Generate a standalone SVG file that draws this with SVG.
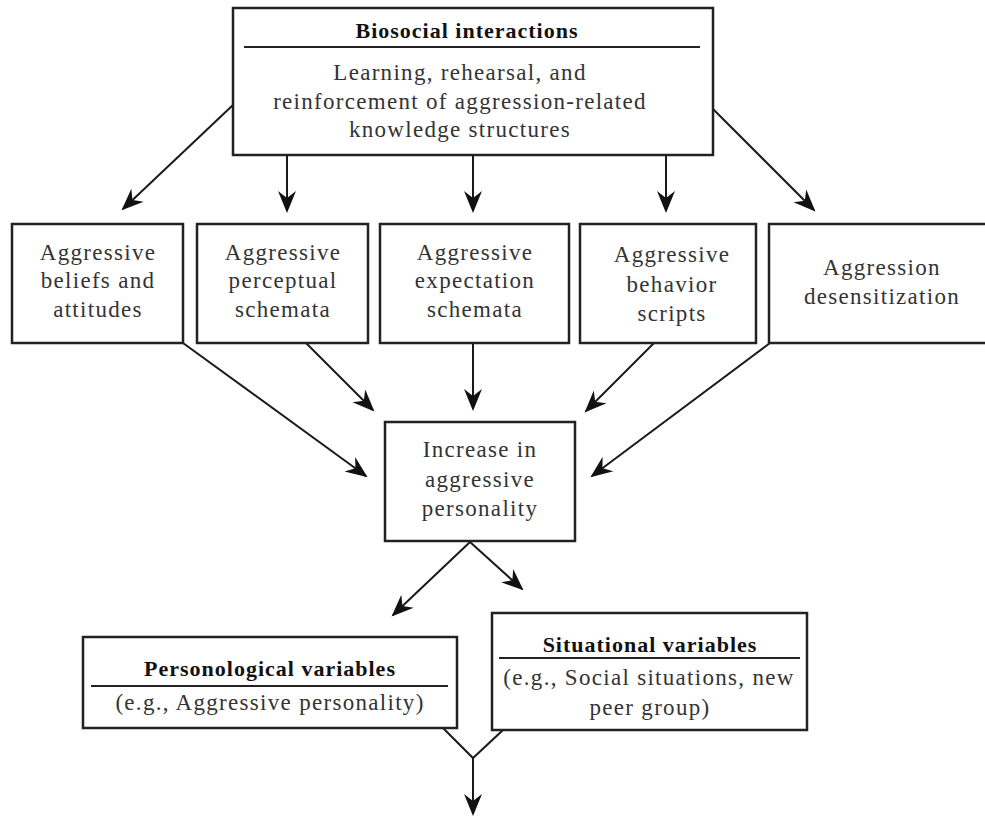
<svg xmlns="http://www.w3.org/2000/svg" width="985" height="816" viewBox="0 0 985 816">
  <defs>
    <!-- barbed arrowhead shared by all connectors -->
    <marker id="arrow" markerUnits="userSpaceOnUse" viewBox="-24 -10 26 20" refX="-2" refY="0" markerWidth="26" markerHeight="20" orient="auto">
      <path d="M0,0 L-22,-9 L-15,0 L-22,9 Z" fill="#111"/>
    </marker>
  </defs>
  <style>
    .box { fill: #fff; stroke: #222; stroke-width: 2.5; }
    .rule { stroke: #222; stroke-width: 2; }
    .txt { font-family: "Liberation Serif", "Times New Roman", serif; font-size: 23px; letter-spacing: 1.3px; fill: #333; text-anchor: middle; }
    .ttl { font-family: "Liberation Serif", "Times New Roman", serif; font-size: 22px; font-weight: bold; letter-spacing: 1px; fill: #111; text-anchor: middle; }
    .conn line, .conn polyline { stroke: #1a1a1a; stroke-width: 2; fill: none; }
  </style>
  <rect width="985" height="816" fill="#fff"/>

  <!-- connectors -->
  <g class="conn">
    <line x1="233" y1="105" x2="123" y2="209" marker-end="url(#arrow)"/>
    <line x1="287" y1="155" x2="287" y2="211" marker-end="url(#arrow)"/>
    <line x1="473" y1="155" x2="473" y2="211" marker-end="url(#arrow)"/>
    <line x1="666" y1="155" x2="666" y2="211" marker-end="url(#arrow)"/>
    <line x1="713" y1="109" x2="814" y2="210" marker-end="url(#arrow)"/>

    <line x1="183" y1="343" x2="366" y2="476" marker-end="url(#arrow)"/>
    <line x1="306" y1="343" x2="373" y2="410" marker-end="url(#arrow)"/>
    <line x1="473" y1="343" x2="473" y2="409" marker-end="url(#arrow)"/>
    <line x1="654" y1="343" x2="586" y2="411" marker-end="url(#arrow)"/>
    <line x1="770" y1="343" x2="592" y2="476" marker-end="url(#arrow)"/>

    <line x1="470" y1="542" x2="393" y2="615" marker-end="url(#arrow)"/>
    <line x1="470" y1="542" x2="522" y2="589" marker-end="url(#arrow)"/>

    <polyline points="443,728 473,758 503,730"/>
    <line x1="473" y1="758" x2="473" y2="814" marker-end="url(#arrow)"/>
  </g>

  <!-- top node -->
  <g id="biosocial">
    <rect class="box" x="233" y="8" width="480" height="147"/>
    <text class="ttl" x="467" y="38">Biosocial interactions</text>
    <line class="rule" x1="244" y1="47" x2="700" y2="47"/>
    <text class="txt" x="460" y="80">Learning, rehearsal, and</text>
    <text class="txt" x="460" y="109">reinforcement of aggression-related</text>
    <text class="txt" x="460" y="137">knowledge structures</text>
  </g>

  <!-- knowledge structure nodes -->
  <g id="beliefs">
    <rect class="box" x="12" y="224" width="171" height="119"/>
    <text class="txt" x="98" y="260">Aggressive</text>
    <text class="txt" x="98" y="288">beliefs and</text>
    <text class="txt" x="98" y="317">attitudes</text>
  </g>
  <g id="perceptual">
    <rect class="box" x="197" y="224" width="171" height="119"/>
    <text class="txt" x="283" y="260">Aggressive</text>
    <text class="txt" x="283" y="288">perceptual</text>
    <text class="txt" x="283" y="317">schemata</text>
  </g>
  <g id="expectation">
    <rect class="box" x="380" y="224" width="189" height="119"/>
    <text class="txt" x="475" y="260">Aggressive</text>
    <text class="txt" x="475" y="288">expectation</text>
    <text class="txt" x="475" y="317">schemata</text>
  </g>
  <g id="scripts">
    <rect class="box" x="580" y="224" width="176" height="119"/>
    <text class="txt" x="672" y="262">Aggressive</text>
    <text class="txt" x="672" y="292">behavior</text>
    <text class="txt" x="672" y="321">scripts</text>
  </g>
  <g id="desensitization">
    <rect class="box" x="769" y="224" width="230" height="119"/>
    <text class="txt" x="882" y="275">Aggression</text>
    <text class="txt" x="882" y="304">desensitization</text>
  </g>

  <!-- outcome node -->
  <g id="increase">
    <rect class="box" x="385" y="422" width="190" height="119"/>
    <text class="txt" x="480" y="457">Increase in</text>
    <text class="txt" x="480" y="487">aggressive</text>
    <text class="txt" x="480" y="516">personality</text>
  </g>

  <!-- variable nodes -->
  <g id="personological">
    <rect class="box" x="83" y="637" width="374" height="91"/>
    <text class="ttl" x="270" y="676">Personological variables</text>
    <line class="rule" x1="91" y1="686" x2="448" y2="686"/>
    <text class="txt" x="270" y="710">(e.g., Aggressive personality)</text>
  </g>
  <g id="situational">
    <rect class="box" x="492" y="613" width="315" height="117"/>
    <text class="ttl" x="650" y="652">Situational variables</text>
    <line class="rule" x1="499" y1="658" x2="800" y2="658"/>
    <text class="txt" x="649" y="685">(e.g., Social situations, new</text>
    <text class="txt" x="650" y="715">peer group)</text>
  </g>
</svg>
